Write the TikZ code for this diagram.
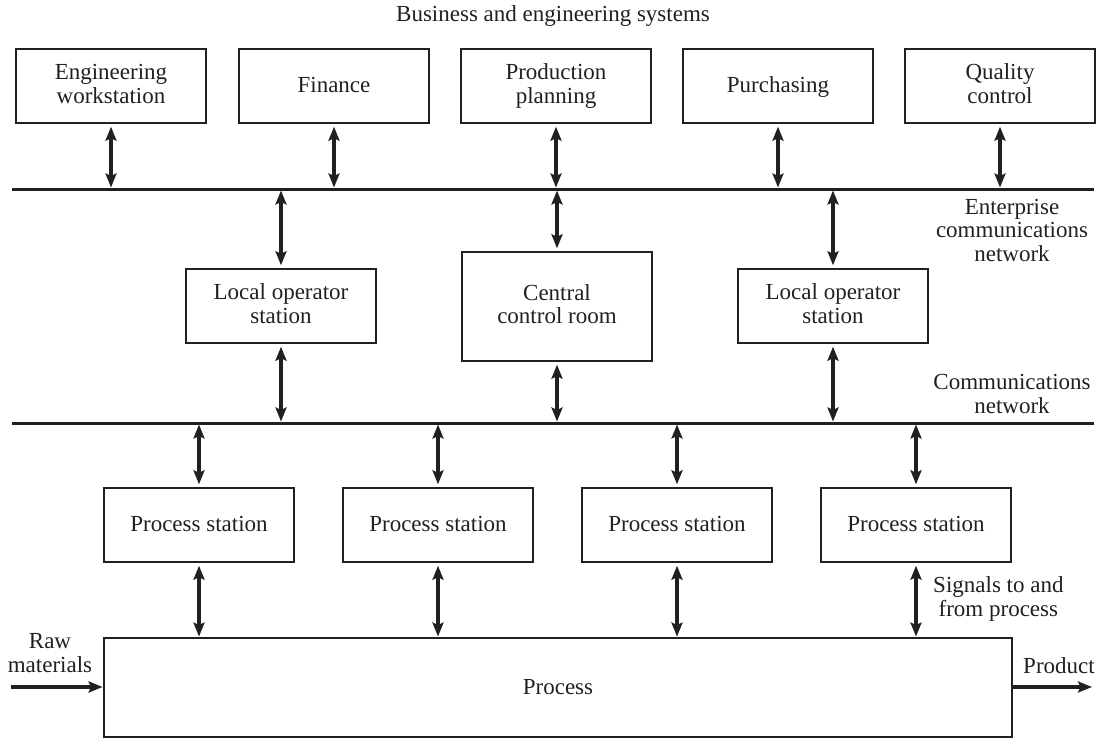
\documentclass[tikz,border=0pt]{standalone}
\usepackage{fontspec}
\setmainfont{Liberation Serif}
\usetikzlibrary{arrows.meta}
\definecolor{ink}{HTML}{231F20}
\begin{document}
\begin{tikzpicture}[x=1pt,y=-1pt,
  every node/.style={font=\fontsize{23}{23.5}\selectfont, text=ink},
  box/.style={draw=ink, line width=1.4pt, minimum width=190pt, inner sep=0pt, align=center,
              execute at begin node=\rule{0pt}{17.5pt}, execute at end node=\rule[-4.5pt]{0pt}{4.5pt}},
  shortbox/.style={box, minimum height=74pt},
  tallbox/.style={box, minimum height=109pt},
  label/.style={inner sep=0pt, align=center},
  bus/.style={draw=ink, line width=3pt},
  biarrow/.style={draw=ink, line width=3.2pt, {Stealth[length=14pt,width=11pt,inset=2.5pt]}-{Stealth[length=14pt,width=11pt,inset=2.5pt]}},
  onearrow/.style={draw=ink, line width=3.2pt, -{Stealth[length=14pt,width=11pt,inset=2.5pt]}},
  ]
\useasboundingbox (0,0) rectangle (1107,738);

% title
\node[label, anchor=base] (title) at (553,22) {Business and engineering systems};

% top boxes
\node[shortbox] (eng)  at (111,86)  {Engineering\\workstation};
\node[shortbox] (fin)  at (334,86)  {Finance};
\node[shortbox] (prod) at (556,86)  {Production\\planning};
\node[shortbox] (pur)  at (778,86)  {Purchasing};
\node[shortbox] (qc)   at (1000,86) {Quality\\control};

% enterprise bus
\coordinate (b1l) at (12,189);
\coordinate (b1r) at (1094,189);
\draw[bus] (b1l) -- (b1r);

\foreach \n in {eng,fin,prod,pur,qc}
  \draw[biarrow, shorten <=3pt, shorten >=1.5pt] (\n.south) -- (\n.south |- b1l);

\node[label] (entlab) at (1012,230) {Enterprise\\communications\\network};

% middle boxes
\node[shortbox] (lop1) at (281,306)   {Local operator\\station};
\node[tallbox]  (ccr)  at (557,306.5) {Central\\control room};
\node[shortbox] (lop2) at (833,306)   {Local operator\\station};

% communications bus
\coordinate (b2l) at (12,423);
\coordinate (b2r) at (1094,423);
\draw[bus] (b2l) -- (b2r);

\node[label] (comlab) at (1012,394) {Communications\\network};

\foreach \n in {lop1,ccr,lop2}{
  \draw[biarrow, shorten <=1.5pt, shorten >=3pt] (\n.north |- b1l) -- (\n.north);
  \draw[biarrow, shorten <=3pt, shorten >=1.5pt] (\n.south) -- (\n.south |- b2l);
}

% process stations
\node[shortbox] (ps1) at (199,525) {Process station};
\node[shortbox] (ps2) at (438,525) {Process station};
\node[shortbox] (ps3) at (677,525) {Process station};
\node[shortbox] (ps4) at (916,525) {Process station};

% process
\node[box, minimum width=908pt, minimum height=99pt] (proc) at (558,687.5) {Process};

\foreach \n in {ps1,ps2,ps3,ps4}{
  \draw[biarrow, shorten <=1.5pt, shorten >=3pt] (\n.north |- b2l) -- (\n.north);
  \draw[biarrow, shorten <=3pt, shorten >=0.7pt] (\n.south) -- (\n.south |- proc.north);
}

\node[label, anchor=west] (siglab) at (933,599) {Signals to and\\from process};

% raw materials and product
\coordinate (rawin) at (11,687);
\coordinate (prodout) at (1092,687);
\draw[onearrow, shorten >=0.7pt] (rawin) -- (rawin -| proc.west);
\draw[onearrow] (prodout -| proc.east) -- (prodout);
\node[label] (rawlab) at (50,653) {Raw\\materials};
\node[label, anchor=base] (prodlab) at (1059,673) {Product};
\end{tikzpicture}
\end{document}
